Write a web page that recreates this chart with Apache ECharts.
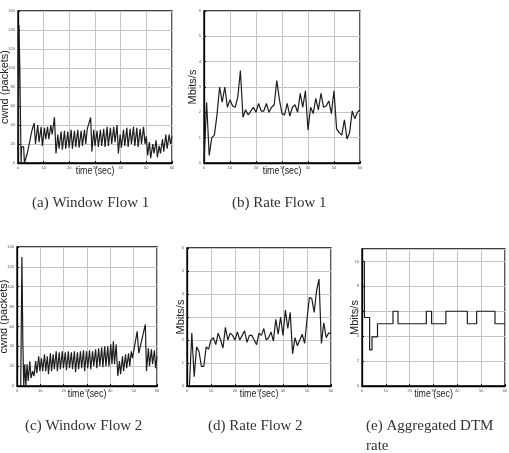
<!DOCTYPE html>
<html>
<head>
<meta charset="utf-8">
<script src="https://cdn.jsdelivr.net/npm/echarts@6/dist/echarts.min.js"></script>
<style>
html, body { margin: 0; padding: 0; background: #fff; }
#main { width: 509px; height: 453px; }
</style>
</head>
<body>
<div id="main"></div>
<script>
//---------------------------//
//          DATA             //
//---------------------------//
// (a) cwnd of flow 1, [time, packets]
var windowFlow1 = [
	[0,0],[0.4,145],[0.7,100],[1.0,100],[1.2,0],[1.4,17],[2.2,17],[2.5,0],[3.0,0],[3.6,10],[4.5,22],[5.5,35],[6.3,42],
	[6.8,20],[7.7,40],[8.2,22],[9.0,38],[9.5,18],[10.3,37],[10.8,25],[11.5,38],[12.0,25],[12.8,40],[13.3,30],[14.2,48],
	[14.8,10],[15.5,30],[16.0,15],[16.8,33],[17.3,14],[18.1,34],[18.6,15],[19.4,33],[19.9,16],[20.7,35],[21.2,15],
	[22.0,34],[22.5,17],[23.3,35],[23.8,16],[24.6,34],[25.1,18],[25.9,35],[26.4,20],[27.0,36],[28.3,48],
	[28.8,12],[29.5,35],[30.0,18],[30.8,34],[31.3,17],[32.1,35],[32.6,18],[33.4,36],[33.9,17],[34.7,38],[35.2,18],
	[36.0,37],[36.5,20],[37.3,38],[37.8,22],[38.6,40],
	[39.1,10],[39.8,30],[40.3,16],[41.1,35],[41.6,18],[42.4,37],[42.9,17],[43.7,36],[44.2,20],[45.0,38],[45.5,18],
	[46.3,37],[46.8,17],[47.6,36],[48.1,20],[48.9,38],[49.5,20],
	[50.0,28],[50.5,8],[51.2,22],[51.7,5],[52.5,20],[53.0,10],[53.8,24],[54.3,6],[55.0,18],[55.5,10],[56.3,25],
	[56.8,12],[57.6,30],[58.1,15],[58.9,30],[59.4,20],[60,28]
];
// (b) rate of flow 1, Mbits/s
var rateFlow1 = [
	[0,0],[1,2.4],[2,0.3],[3,1.0],[4,1.1],[5,1.9],[6,3.0],[7,2.4],[8,3.0],[9,2.2],[10,2.5],[11,2.25],[12,2.2],
	[13,2.6],[14,3.65],[15,1.8],[16,2.1],[17,1.9],[18,2.05],[19,2.2],[20,2.0],[21,2.35],[22,2.05],[23,2.05],
	[24,2.35],[25,2.0],[26,2.2],[27,2.3],[28,3.25],[29,2.5],[30,1.95],[31,1.9],[32,2.35],[33,1.85],[34,2.2],
	[35,2.3],[36,2.0],[37,2.75],[38,2.2],[39,2.85],[40,1.3],[41,2.2],[42,1.95],[43,2.55],[44,2.1],[45,2.75],
	[46,2.2],[47,2.25],[48,2.45],[49,1.95],[50,2.85],[51,1.35],[52,1.2],[53,1.1],[54,1.7],[55,0.95],[56,1.2],
	[57,2.05],[58,1.75],[59,2.0],[60,2.1]
];
// (c) cwnd of flow 2
var windowFlow2 = [
	[0,0],[1.6,0],[2.1,130],[2.3,90],[2.5,45],[2.9,0],[3.3,22],[3.8,0],[4.3,22],[4.8,5],[5.5,25],[6.0,8],[6.7,15],
	[7.3,10],[8.0,25],[8.5,13],[9.3,30],[9.8,15],[10.5,28],[11.0,15],[11.8,32],[12.3,15],[13.0,30],[13.5,12],
	[14.3,33],[14.8,15],[15.5,32],[16.0,17],[16.8,35],[17.3,15],[18.1,34],[18.6,17],[19.4,35],[19.9,18],[20.7,34],
	[21.2,16],[22.0,35],[22.5,18],[23.3,34],[23.8,17],[24.6,35],[25.1,14],[25.9,34],[26.4,17],[27.2,35],[27.7,18],
	[28.5,36],[29.0,15],[29.8,35],[30.3,18],[31.1,36],[31.6,17],[32.4,35],[32.9,20],[33.7,37],[34.2,18],[35.0,38],
	[35.5,20],[36.3,39],[36.8,19],[37.6,40],[38.1,20],[38.9,40],[39.4,20],[40.2,42],[40.7,22],[41.3,45],[41.8,22],
	[42.5,42],[43.2,10],[43.9,25],[44.4,12],[45.2,30],[45.7,15],[46.5,32],[47.0,18],[47.8,33],[48.3,20],[49.0,35],
	[49.5,28],[51.5,55],[52.2,33],[55.0,62],[55.5,15],[56.3,38],[56.8,20],[57.6,37],[58.1,22],[58.9,36],[59.4,18],[60,30]
];
// (d) rate of flow 2
var rateFlow2 = [
	[0,0],[1,0],[2,2.3],[3,0.4],[4,1.7],[5,1.5],[6,0.85],[7,0.85],[8,1.7],[9,1.6],[10,2.0],[11,2.1],[12,1.8],
	[13,2.3],[14,2.0],[15,1.65],[16,2.55],[17,2.0],[18,2.3],[19,2.2],[20,2.0],[21,2.35],[22,2.0],[23,2.2],[24,2.4],
	[25,1.9],[26,2.2],[27,2.2],[28,2.0],[29,1.8],[30,2.3],[31,2.2],[32,2.5],[33,2.0],[34,2.1],[35,2.35],[36,1.95],
	[37,2.9],[38,2.25],[39,3.0],[40,2.2],[41,3.3],[42,2.5],[43,3.2],[44,1.4],[45,2.1],[46,1.75],[47,2.0],[48,2.25],
	[49,1.85],[50,2.9],[51,3.85],[52,3.8],[53,3.2],[54,4.15],[55,4.65],[56,1.85],[57,2.75],[58,2.1],[59,2.3],[60,2.3]
];
// (e) aggregated DTM rate, steps
var dtmRate = [
	[0,10],[1,5.5],[3.2,2.9],[4.2,3.95],[6.5,5],[13,6],[15.1,5],[27,6],[29.2,5],[35.2,6],[44.2,5],[48.1,6],[55.8,5],[60,5]
];

var captions = ['(a) Window Flow 1', '(b) Rate Flow 1', '(c) Window Flow 2', '(d) Rate Flow 2', '(e) Aggregated DTM', 'rate'];
var yNames = ['cwnd (packets)', 'Mbits/s', 'cwnd (packets)', 'Mbits/s', 'Mbits/s'];
var xName = 'time (sec)';
var yMax = [160, 6, 140, 6, 11];
var yStep = [20, 1, 20, 1, 2];

//---------------------------//
//        CHART CODE         //
//---------------------------//
var chart = echarts.init(document.getElementById('main'));

var grids = [
	{left: 18, top: 11, width: 154, height: 152},
	{left: 204, top: 11, width: 156, height: 152},
	{left: 17, top: 247, width: 140, height: 139},
	{left: 187, top: 248, width: 144, height: 138},
	{left: 362, top: 249, width: 143, height: 137}
];
var yNameGap = [8, 6, 8, 1, 2];

var xAxes = [], yAxes = [], graphics = [];
for (var i = 0; i < 5; i++) {
	grids[i].show = true;
	grids[i].borderColor = '#000';
	grids[i].borderWidth = 1.3;
	grids[i].outerBoundsMode = 'none';
	xAxes.push({
		gridIndex: i,
		type: 'value',
		min: 0,
		max: 60,
		interval: 10,
		axisLine: {show: true, lineStyle: {color: '#000', width: 1.3}},
		axisTick: {show: true, inside: true, length: 2, lineStyle: {color: '#000'}},
		axisLabel: {fontSize: 4, margin: 3, color: '#555'},
		splitLine: {show: true, lineStyle: {color: '#c4c4c4', width: 1}}
	});
	yAxes.push({
		gridIndex: i,
		type: 'value',
		min: 0,
		max: yMax[i],
		interval: yStep[i],
		name: yNames[i],
		nameLocation: 'middle',
		nameGap: yNameGap[i],
		nameMoveOverlap: false,
		nameTextStyle: {fontFamily: '"Liberation Sans", Arial, sans-serif', fontSize: 11, color: '#222'},
		axisLine: {show: true, lineStyle: {color: '#000', width: 1.3}},
		axisTick: {show: true, inside: true, length: 2, lineStyle: {color: '#000'}},
		axisLabel: {fontSize: 4, margin: 3, color: '#555', showMaxLabel: i != 4},
		splitLine: {show: true, lineStyle: {color: '#c4c4c4', width: 1}}
	});
	// x axis title, narrow like the original
	graphics.push({
		type: 'text',
		x: grids[i].left + grids[i].width / 2,
		y: grids[i].top + grids[i].height + 8,
		scaleX: 0.8,
		style: {
			text: xName,
			font: '11px "Liberation Sans", Arial, sans-serif',
			fill: '#222',
			align: 'center',
			verticalAlign: 'middle'
		}
	});
}

function lineSeries(idx, data, step) {
	return {
		type: 'line',
		xAxisIndex: idx,
		yAxisIndex: idx,
		data: data,
		step: step || false,
		symbol: 'none',
		smooth: false,
		animation: false,
		lineStyle: {color: '#1e1e1e', width: 1.2}
	};
}

var capFont = '15px "Liberation Serif", "Times New Roman", serif';
var capPos = [[32, 196], [232, 196], [25, 419], [208, 419], [366, 419], [366, 439]];
for (var k = 0; k < captions.length; k++) {
	graphics.push({
		type: 'text',
		left: capPos[k][0],
		top: capPos[k][1],
		style: {text: captions[k], font: capFont, fill: '#333'}
	});
}

option = {
	backgroundColor: '#fff',
	animation: false,
	grid: grids,
	xAxis: xAxes,
	yAxis: yAxes,
	graphic: graphics,
	series: [
		lineSeries(0, windowFlow1),
		lineSeries(1, rateFlow1),
		lineSeries(2, windowFlow2),
		lineSeries(3, rateFlow2),
		lineSeries(4, dtmRate, 'end')
	]
};
chart.setOption(option);
</script>
</body>
</html>
